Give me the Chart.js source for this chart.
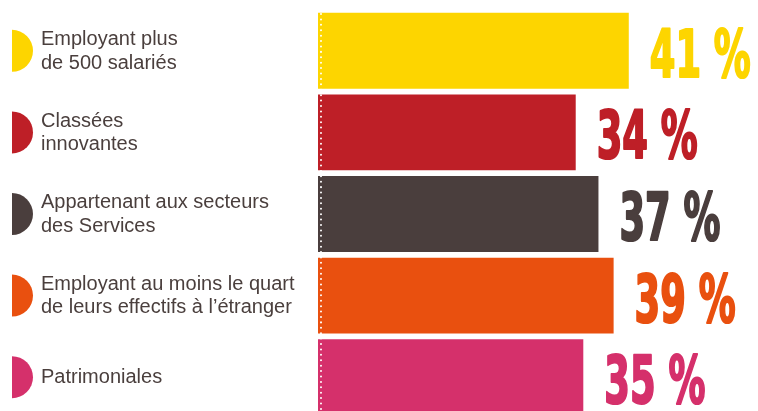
<!DOCTYPE html>
<html lang="fr">
<head>
    <meta charset="UTF-8">
    <title>Entreprises - pourcentages</title>
    <script src="https://cdn.jsdelivr.net/npm/chart.js"></script>
    <style>
        html, body { margin: 0; padding: 0; background: #fff; overflow: hidden; }
        #wrap { width: 758px; height: 418px; }
    </style>
</head>
<body>
<div id="wrap"><canvas id="chart" width="758" height="418"></canvas></div>
<script>
    // data
    const categories = [
        ['Employant plus', 'de 500 salariés'],
        ['Classées', 'innovantes'],
        ['Appartenant aux secteurs', 'des Services'],
        ['Employant au moins le quart', 'de leurs effectifs à l\u2019étranger'],
        ['Patrimoniales']
    ];
    const values = [41, 34, 37, 39, 35];
    const valueLabels = ['41 %', '34 %', '37 %', '39 %', '35 %'];
    const colors = ['#FDD500', '#BE1F27', '#4A3E3D', '#E9500F', '#D5306B'];

    const textColor = '#4a3f3d';

    // left labels with half-disc markers, value labels, dotted line
    const decorations = {
        id: 'decorations',
        afterDatasetsDraw(chart) {
            const ctx = chart.ctx;
            const yScale = chart.scales.y;
            const xScale = chart.scales.x;
            const meta = chart.getDatasetMeta(0);

            // white dotted line near the base of the bars
            const x0 = xScale.getPixelForValue(0) + 3;
            ctx.save();
            ctx.strokeStyle = '#ffffff';
            ctx.lineWidth = 2;
            ctx.lineCap = 'round';
            ctx.setLineDash([0.01, 5.4]);
            ctx.beginPath();
            ctx.moveTo(x0, chart.chartArea.top + 4);
            ctx.lineTo(x0, chart.chartArea.bottom);
            ctx.stroke();
            ctx.restore();

            categories.forEach((lines, i) => {
                const cy = yScale.getPixelForValue(i);

                // half disc marker
                ctx.save();
                ctx.fillStyle = colors[i];
                ctx.beginPath();
                ctx.arc(12, cy, 21, -Math.PI / 2, Math.PI / 2);
                ctx.closePath();
                ctx.fill();

                // category text
                ctx.fillStyle = textColor;
                ctx.font = '20px "Liberation Sans", Arial, sans-serif';
                ctx.textBaseline = 'alphabetic';
                ctx.textAlign = 'left';
                const lh = 23.5;
                const first = cy + 6 - (lines.length - 1) * lh / 2;
                lines.forEach((t, k) => {
                    ctx.fillText(t, 41, first + k * lh);
                });
                ctx.restore();

                // value label (condensed, heavy)
                const bar = meta.data[i];
                ctx.save();
                ctx.font = 'bold 65px "Liberation Sans Narrow", "DejaVu Sans Condensed", sans-serif';
                ctx.fillStyle = colors[i];
                ctx.strokeStyle = colors[i];
                ctx.lineWidth = 2.2;
                ctx.lineJoin = 'round';
                ctx.textBaseline = 'alphabetic';
                const sx = 101 / ctx.measureText('41 %').width;
                ctx.translate(bar.x + 21, cy + 26);
                ctx.scale(sx, 1);
                ctx.fillText(valueLabels[i], 0, 0);
                ctx.strokeText(valueLabels[i], 0, 0);
                ctx.restore();
            });
        }
    };

    new Chart(document.getElementById('chart'), {
        type: 'bar',
        data: {
            labels: categories,
            datasets: [{
                data: values,
                backgroundColor: colors,
                borderWidth: 0,
                categoryPercentage: 1,
                barPercentage: 0.93
            }]
        },
        options: {
            indexAxis: 'y',
            responsive: false,
            animation: false,
            layout: { padding: { left: 318, right: 61, top: 10, bottom: 0 } },
            scales: {
                x: { display: false, min: 0, max: 50 },
                y: { display: false }
            },
            plugins: {
                legend: { display: false },
                tooltip: { enabled: false }
            }
        },
        plugins: [decorations]
    });
</script>
</body>
</html>
